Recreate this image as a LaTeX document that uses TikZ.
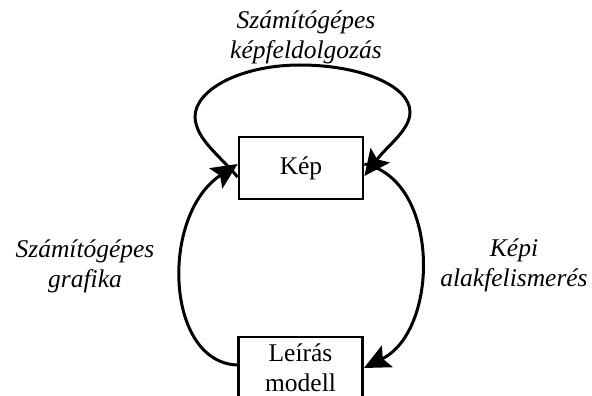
\documentclass[tikz,border=0pt]{standalone}
\usepackage{fontspec}
\setmainfont{Liberation Serif}
\usetikzlibrary{arrows.meta,calc}
\begin{document}
\begin{tikzpicture}[x=1pt,y=-1pt,
  box/.style={draw, line width=2.8pt, minimum width=124pt, minimum height=62pt,
    inner sep=0pt, align=center, font=\fontsize{25.5}{30}\selectfont},
  lbl/.style={align=center, inner sep=0pt, font=\fontsize{25.5}{30}\selectfont\itshape},
  flow/.style={line width=3pt, -{Stealth[length=26pt,width=24pt,inset=5pt]}}]
\useasboundingbox (0,0) rectangle (592,396);
% the two boxes
\node[box] (kep) at (301,168) {Kép};
\node[box] (leiras) at (300.5,368) {Leírás\\modell};
% labels of the three processes
\node[lbl] (tlbl) at (306,37) {Számítógépes\\képfeldolgozás};
\node[lbl] (llbl) at (85,266) {Számítógépes\\grafika};
\node[lbl] (rlbl) at (514,265) {Képi\\alakfelismerés};
% self loop above the image box
\draw[flow] ($(kep.west)+(0,9)$) .. controls (218,154) and (196,139) .. (195,117)
  .. controls (195,89) and (242,65) .. (300,65)
  .. controls (361,65) and (410,86) .. (410,112)
  .. controls (410,130) and (388,145) .. ($(kep.east)+(0,8)$);
% description to image
\draw[flow] ($(leiras.west)+(0,-3)$) .. controls (165,362) and (160,215) .. ($(kep.west)+(0,-4)$);
% image to description
\draw[flow] ($(kep.east)+(0,-4)$) .. controls (440,180) and (440,330) .. (leiras.east);
\end{tikzpicture}
\end{document}
